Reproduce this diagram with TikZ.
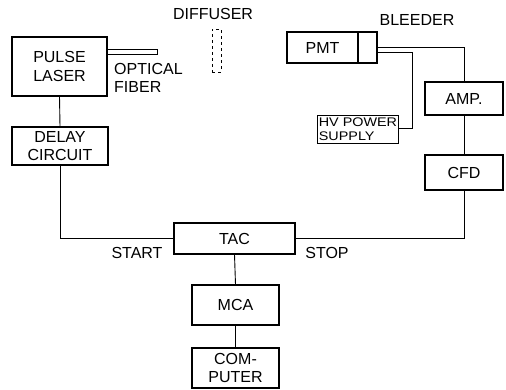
\documentclass[tikz,border=0pt]{standalone}
\usepackage{fontspec}
\setmainfont{Liberation Sans}
\newfontfamily\widefont[FakeStretch=1.15]{Liberation Sans}
\begin{document}
\begin{tikzpicture}[x=1pt,y=-1pt,
  box/.style={draw, line width=1.1pt, inner sep=0pt, font=\fontsize{16}{18.5}\selectfont, align=center},
  lbl/.style={inner sep=0pt, font=\fontsize{16}{18.5}\selectfont},
  wire/.style={line width=0.9pt}]
\useasboundingbox (0,0) rectangle (506,390);
% boxes
\node[box, minimum width=95pt, minimum height=59pt] (laser) at (59.5,66.5) {PULSE\\LASER};
\node[box, minimum width=96pt, minimum height=38pt] (delay) at (60,146) {DELAY\\CIRCUIT};
\node[box, minimum width=121pt, minimum height=31pt] (tac) at (234.5,238.5) {TAC};
\node[box, minimum width=87pt, minimum height=40pt] (mca) at (235.5,305) {MCA};
\node[box, minimum width=87pt, minimum height=40pt] (comp) at (235.5,368) {COM-\\PUTER};
\node[box, minimum width=71pt, minimum height=31pt] (pmt) at (322.5,47.5) {PMT};
\node[box, minimum width=19pt, minimum height=31pt] (bleed) at (367.5,47.5) {};
\node[box, minimum width=78pt, minimum height=33pt] (amp) at (464,98.5) {AMP.};
\node[box, minimum width=78pt, minimum height=35pt] (cfd) at (464,172.5) {CFD};
\node[box, line width=0.9pt, minimum width=80pt, minimum height=28pt, align=left,
      font=\widefont\fontsize{12.5}{14}\selectfont, inner xsep=1.5pt] (hv) at (358,129) {HV POWER\\SUPPLY};
\node[draw, line width=0.9pt, inner sep=0pt, minimum width=50pt, minimum height=5pt] (fiber) at (132,51.5) {};
\node[draw, dashed, line width=0.9pt, inner sep=0pt, minimum width=9pt, minimum height=43pt] (diff) at (216.5,50.5) {};
% labels
\node[lbl] (ldiff) at (213,14) {DIFFUSER};
\node[lbl] (lbleed) at (417,20) {BLEEDER};
\node[lbl, align=left, anchor=west] (lfiber) at (114,78) {OPTICAL\\FIBER};
\node[lbl] (lstart) at (137,253) {START};
\node[lbl] (lstop) at (327,253) {STOP};
% connectors
\draw[wire] (laser.south) -- (delay.north);
\draw[wire] (delay.south) |- (tac.west);
\draw[wire] (cfd.south) |- (tac.east);
\draw[wire] (amp.south) -- (cfd.north);
\draw[wire] (tac.south) -- (mca.north);
\draw[wire] (mca.south) -- (comp.north);
\coordinate (b1) at ([yshift=0.5pt]bleed.east);
\coordinate (b2) at ([yshift=-4.5pt]bleed.east);
\coordinate (hvin) at ([yshift=1pt]hv.east);
\draw[wire] (b1) -| (amp.north);
\draw[wire] (b2) -| ([xshift=13pt]hvin) -- (hvin);
\end{tikzpicture}
\end{document}
